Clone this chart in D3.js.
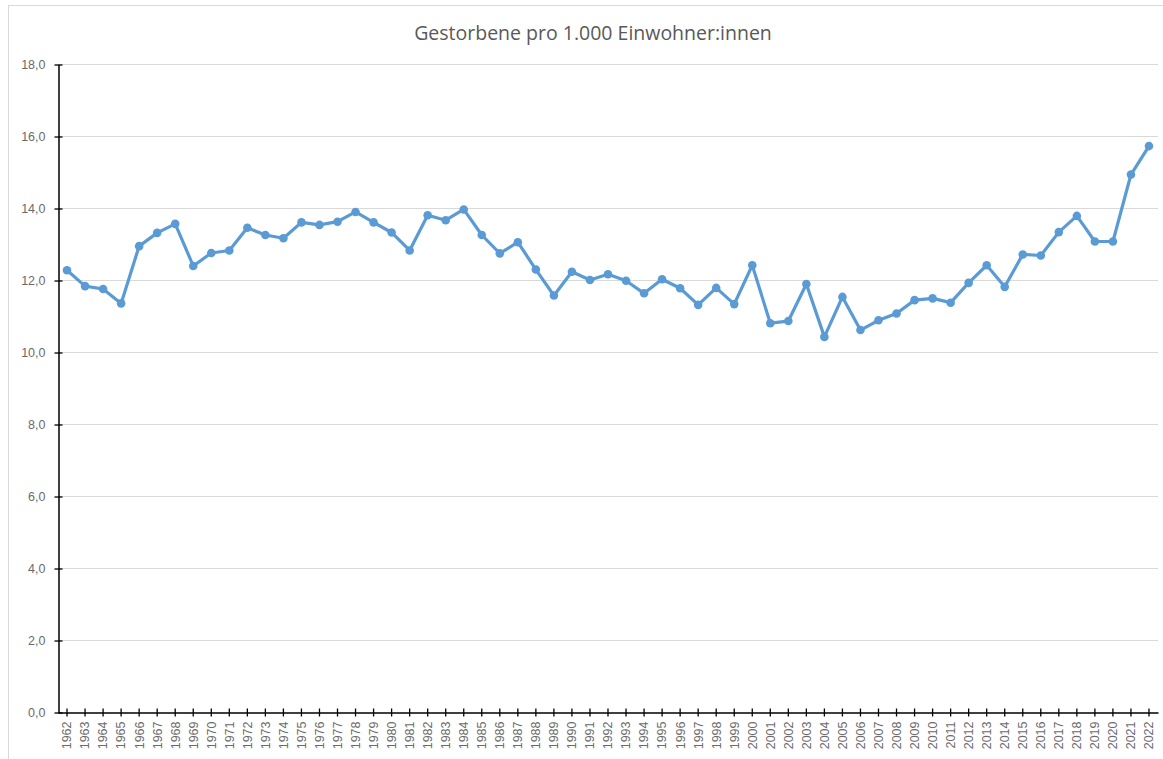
<!DOCTYPE html>
<html>
<head>
<meta charset="utf-8">
<script src="https://cdn.jsdelivr.net/npm/d3@7"></script>
<style>
  body { margin: 0; background: #fff; }
  svg { display: block; font-family: "Open Sans", "Noto Sans", sans-serif; }
</style>
</head>
<body>
<div id="chart"></div>
<script>
// years on the category axis
var years = d3.range(1962, 2023).map(String);

// deaths per 1,000 inhabitants
var deaths = [
  12.27, 11.83, 11.75, 11.35, 12.94, 13.31, 13.56, 12.39, 12.75, 12.82,
  13.45, 13.25, 13.16, 13.60, 13.53, 13.62, 13.89, 13.60, 13.32, 12.82,
  13.80, 13.66, 13.96, 13.25, 12.74, 13.05, 12.29, 11.57, 12.23, 12.00,
  12.16, 11.98, 11.63, 12.02, 11.77, 11.31, 11.78, 11.33, 12.41, 10.80,
  10.86, 11.89, 10.42, 11.53, 10.61, 10.88, 11.07, 11.44, 11.49, 11.37,
  11.92, 12.41, 11.81, 12.71, 12.68, 13.33, 13.78, 13.07, 13.07, 14.93,
  15.72
];

var yTicks = [0, 2, 4, 6, 8, 10, 12, 14, 16, 18];

var titleText = "Gestorbene pro 1.000 Einwohner:innen";

var width = 1163,
    height = 759,
    margin = {left: 58, right: 5, top: 64, bottom: 47};

var svg = d3.select("#chart").append("svg")
    .attr("width", width)
    .attr("height", height);

// outer chart frame
svg.append("rect")
    .attr("x", 8.5)
    .attr("y", 5.5)
    .attr("width", 1170)
    .attr("height", 780)
    .attr("fill", "none")
    .attr("stroke", "#d9d9d9");

var x = d3.scaleBand()
    .domain(years)
    .range([margin.left, width - margin.right]);

var y = d3.scaleLinear()
    .domain([0, 18])
    .range([height - margin.bottom, margin.top]);

var fmt = function(d) { return d3.format(".1f")(d).replace(".", ","); };

// gridlines
svg.append("g")
  .selectAll("line")
  .data(yTicks.filter(function(d) { return d > 0; }))
  .enter().append("line")
    .attr("x1", margin.left)
    .attr("x2", width - margin.right)
    .attr("y1", function(d) { return Math.round(y(d)) + 0.5; })
    .attr("y2", function(d) { return Math.round(y(d)) + 0.5; })
    .attr("stroke", "#d9d9d9")
    .attr("stroke-width", 1);

// y axis
var yAxis = svg.append("g")
    .attr("transform", "translate(" + (margin.left + 0.5) + ",0.5)")
    .call(d3.axisLeft(y).tickValues(yTicks).tickFormat(fmt).tickSizeInner(4).tickSizeOuter(0).tickPadding(9));
yAxis.select(".domain").attr("stroke", "#000").attr("stroke-width", 1.5);
yAxis.selectAll(".tick line").attr("stroke", "#000").attr("x2", 4).attr("x1", -4).attr("stroke-width", 1.3);
yAxis.selectAll(".tick text")
    .attr("fill", "#6b6b6b")
    .style("font-size", "12.5px");

// x axis
var xAxis = svg.append("g")
    .attr("transform", "translate(0," + (Math.round(y(0)) + 0.5) + ")")
    .call(d3.axisBottom(x).tickSizeInner(4).tickSizeOuter(0).tickPadding(6));
xAxis.select(".domain").attr("stroke", "#000").attr("stroke-width", 1.5);
xAxis.selectAll(".tick line").attr("stroke", "#000").attr("y1", -4).attr("y2", 4).attr("stroke-width", 1.3);
xAxis.selectAll(".tick text")
    .attr("fill", "#6b6b6b")
    .style("font-size", "12.5px")
    .attr("text-anchor", "end")
    .attr("dy", "0.35em")
    .attr("transform", "translate(0,9) rotate(-90)")
    .attr("x", 0)
    .attr("y", 0);

// series line
var line = d3.line()
    .x(function(d, i) { return x(years[i]) + x.bandwidth() / 2; })
    .y(function(d) { return y(d); });

svg.append("path")
    .datum(deaths)
    .attr("d", line)
    .attr("fill", "none")
    .attr("stroke", "#5b9bd5")
    .attr("stroke-width", 3.2)
    .attr("stroke-linejoin", "round");

svg.append("g")
  .selectAll("circle")
  .data(deaths)
  .enter().append("circle")
    .attr("cx", function(d, i) { return x(years[i]) + x.bandwidth() / 2; })
    .attr("cy", function(d) { return y(d); })
    .attr("r", 4.3)
    .attr("fill", "#5b9bd5");

// title
svg.append("text")
    .attr("x", 593)
    .attr("y", 40)
    .attr("text-anchor", "middle")
    .attr("fill", "#595959")
    .style("font-size", "19.5px")
    .text(titleText);
</script>
</body>
</html>
